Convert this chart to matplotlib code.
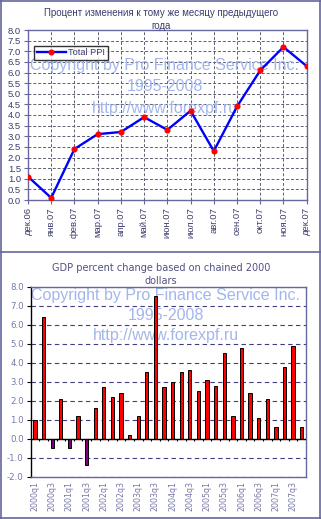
import numpy as np
import matplotlib
matplotlib.use("Agg")
from matplotlib import pyplot as plt
from matplotlib.lines import Line2D

# top chart: PPI, % change to the same month of the previous year
ppi_months = ["дек.06", "янв.07", "фев.07", "мар.07", "апр.07", "май.07", "июн.07",
              "июл.07", "авг.07", "сен.07", "окт.07", "ноя.07", "дек.07"]
ppi_values = [1.1, 0.1, 2.4, 3.1, 3.2, 3.9, 3.3, 4.2, 2.3, 4.4, 6.1, 7.2, 6.3]

# bottom chart: GDP percent change, quarterly
gdp_quarters = [f"{y}q{q}" for y in range(2000, 2008) for q in range(1, 5)]
gdp_values = [1.0, 6.4, -0.5, 2.1, -0.5, 1.2, -1.4, 1.6,
              2.7, 2.2, 2.4, 0.2, 1.2, 3.5, 7.5, 2.7,
              3.0, 3.5, 3.6, 2.5, 3.1, 2.8, 4.5, 1.2,
              4.8, 2.4, 1.1, 2.1, 0.6, 3.8, 4.9, 0.6]

FRAME = "#6666a0"
TXT_TOP = "#3c3c6c"
TXT_BOT = "#7878a8"
WM_COLOR = "#a3b6ec"
W, H = 321, 519

fig = plt.figure(figsize=(W / 100, H / 100), dpi=100)
fig.patch.set_facecolor("white")

# panel borders
for seg in [([1.5, 1.5], [0, H]), ([W - 1, W - 1], [0, H]), ([0, W], [H - 252, H - 252]),
            ([0, W], [1, 1]), ([0, W], [H - 0.5, H - 0.5])]:
    fig.add_artist(Line2D(np.array(seg[0]) / W, np.array(seg[1]) / H, color=FRAME, lw=1.2,
                          transform=fig.transFigure))


def watermark(ax, y0, dy):
    lines = ["Copyright by Pro Finance Service Inc.", "1995-2008", "http://www.forexpf.ru"]
    for i, s in enumerate(lines):
        ax.text(0.49, y0 - i * dy, s, transform=ax.transAxes, ha="center", va="center",
                fontsize=11.5, family="Liberation Sans", color=WM_COLOR, zorder=1)


# ---- top chart ----
ax1 = fig.add_axes([28 / W, (H - 200) / H, 278.7 / W, 170 / H])
x = np.arange(len(ppi_months))
ax1.plot(x, ppi_values, color="#0000ff", lw=1.7, marker="o", ms=3.4,
         mfc="#ff0000", mec="#ff0000", label="Total PPI", zorder=3)
ax1.set_xlim(0, len(ppi_months) - 1)
ax1.set_ylim(0, 8)
ax1.set_yticks(np.arange(0, 8.01, 0.5))
ax1.set_yticklabels([f"{v:.1f}" for v in np.arange(0, 8.01, 0.5)], fontsize=6.8,
                    family="Liberation Sans", color=TXT_TOP)
ax1.set_xticks(x)
ax1.set_xticklabels(ppi_months, rotation=90, fontsize=6.8, family="Liberation Sans", color=TXT_TOP)
ax1.tick_params(axis="both", length=3, width=0.8, color=FRAME, pad=2)
ax1.grid(True, color="#606070", ls=(0, (3, 2)), lw=0.7)
ax1.set_axisbelow(True)
for sp in ax1.spines.values():
    sp.set_color(FRAME)
    sp.set_linewidth(1.0)
watermark(ax1, 0.79, 0.125)
leg = ax1.legend(loc="upper left", bbox_to_anchor=(0.005, 0.935), frameon=True,
                 fancybox=False, edgecolor="black", borderpad=0.3, handlelength=3.2,
                 handletextpad=0.2, prop={"family": "Liberation Sans", "size": 6.6})
leg.get_frame().set_linewidth(1.0)
for t in leg.get_texts():
    t.set_color(TXT_TOP)
fig.text(161 / W, 1 - 19.5 / H, "Процент изменения к тому же месяцу предыдущего\nгода",
         ha="center", va="center", fontsize=7.0, family="Liberation Sans",
         color=TXT_TOP, linespacing=1.45)

# ---- bottom chart ----
ax2 = fig.add_axes([30.7 / W, (H - 476.7) / H, 275.3 / W, 190 / H])
xb = np.arange(len(gdp_values))
colors = ["#ff0000" if v >= 0 else "#800080" for v in gdp_values]
ax2.bar(xb, gdp_values, width=0.38, color=colors, edgecolor="black", lw=0.7, zorder=3)
ax2.set_xlim(-0.5, len(gdp_values) - 0.5)
ax2.set_ylim(-2, 8)
ax2.set_yticks(np.arange(-2, 8.01, 1))
ax2.set_yticklabels([f"{v:.1f}" for v in np.arange(-2, 8.01, 1)], fontsize=6.2,
                    family="DejaVu Sans", color=TXT_BOT)
ax2.set_xticks(xb[::2])
ax2.set_xticklabels(gdp_quarters[::2], rotation=90, fontsize=5.7, family="DejaVu Sans",
                    color=TXT_BOT)
ax2.tick_params(axis="x", which="major", length=0, pad=3)
ax2.tick_params(axis="y", length=3, width=0.8, color="black", pad=2)
ax2.yaxis.grid(True, color="#404080", ls=(0, (4, 3)), lw=0.8)
ax2.axhline(0, color="black", lw=1.0, zorder=4)
# category tick marks hang from the zero line
ax2.vlines(xb[:-1] + 0.5, -0.13, 0, color="black", lw=0.8, zorder=4)
for name, sp in ax2.spines.items():
    sp.set_color(FRAME)
    sp.set_linewidth(1.0)
ax2.spines["left"].set_color("black")
watermark(ax2, 0.953, 0.106)
fig.text(161 / W, 1 - 274.5 / H, "GDP percent change based on chained 2000\ndollars",
         ha="center", va="center", fontsize=7.0, family="DejaVu Sans",
         color="#505080", linespacing=1.45)

fig.savefig("out.png", dpi=100)
